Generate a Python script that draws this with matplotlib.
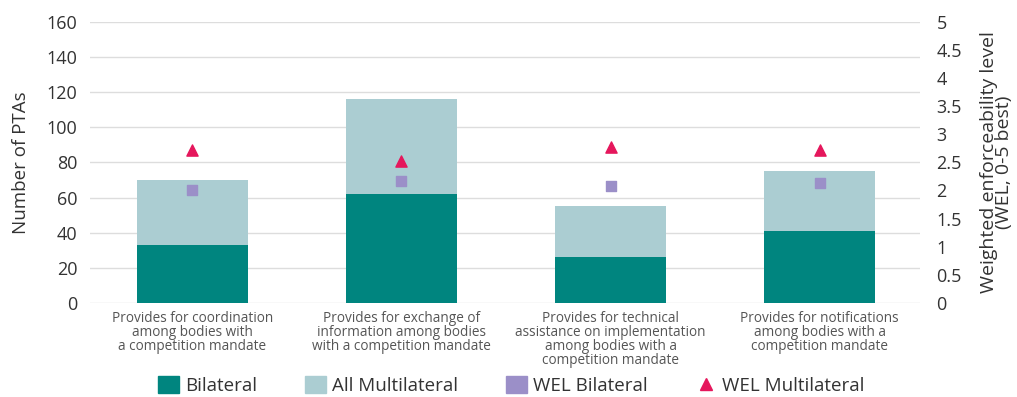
import numpy as np
import matplotlib.pyplot as plt
from matplotlib import font_manager
from matplotlib.lines import Line2D
from matplotlib.patches import Patch

plt.rcParams['font.family'] = ['Open Sans', 'DejaVu Sans']

categories = ["Provides for coordination\namong bodies with\na competition mandate",
              "Provides for exchange of\ninformation among bodies\nwith a competition mandate",
              "Provides for technical\nassistance on implementation\namong bodies with a\ncompetition mandate",
              "Provides for notifications\namong bodies with a\ncompetition mandate"]
bilateral = [33, 62, 26, 41]
multilateral = [37, 54, 29, 34]   # stacked on top of bilateral
wel_bilateral = [2.0, 2.17, 2.08, 2.13]
wel_multilateral = [2.72, 2.53, 2.78, 2.72]

teal = '#00857f'
light = '#abcdd2'
purple = '#9b8fc8'
red = '#e5175c'
txt = '#333333'

# condensed font for the category labels if we have one
names = {f.name for f in font_manager.fontManager.ttflist}
if 'Liberation Sans Narrow' in names:
    cat_font, cat_size = ['Liberation Sans Narrow', 'DejaVu Sans'], 11
else:
    cat_font, cat_size = ['Open Sans', 'DejaVu Sans'], 9.8

fig = plt.figure(figsize=(10.17, 3.97), dpi=100)
ax = fig.add_axes([0.0885, 0.237, 0.816, 0.708])
x = np.arange(len(categories))
w = 0.53
ax.bar(x, bilateral, w, color=teal, zorder=2)
ax.bar(x, multilateral, w, bottom=bilateral, color=light, zorder=2)
ax.set_ylim(0, 160)
ax.set_yticks(np.arange(0, 161, 20))
ax.set_xlim(-0.49, 3.48)
ax.set_xticks(x)
ax.set_xticklabels(categories, fontsize=cat_size, color='#555555', linespacing=0.9,
                   family=cat_font)
ax.tick_params(axis='x', length=0, pad=6)
ax.tick_params(axis='y', length=0, labelsize=13, labelcolor=txt, pad=9)
ax.grid(axis='y', color='#dddddd', linewidth=1, zorder=0)
ax.set_axisbelow(True)
for s in ax.spines.values():
    s.set_visible(False)
ax.set_ylabel("Number of PTAs", fontsize=13.5, color=txt, labelpad=12)

ax2 = ax.twinx()
ax2.set_ylim(0, 5)
ax2.set_yticks(np.arange(0, 5.01, 0.5))
ax2.set_yticklabels([f"{v:g}" for v in np.arange(0, 5.01, 0.5)])
ax2.tick_params(axis='y', length=0, labelsize=13, labelcolor=txt, pad=12)
for s in ax2.spines.values():
    s.set_visible(False)
ax2.scatter(x, wel_bilateral, marker='s', s=55, color=purple, zorder=3)
ax2.scatter(x, wel_multilateral, marker='^', s=65, color=red, zorder=3)
ax2.set_ylabel("Weighted enforceability level\n(WEL, 0-5 best)", fontsize=14,
               color=txt, linespacing=0.8, labelpad=13)

handles = [Patch(color=teal), Patch(color=light), Patch(color=purple),
           Line2D([], [], marker='^', ls='', color=red, markersize=8)]
labels = ["Bilateral", "All Multilateral", "WEL Bilateral", "WEL Multilateral"]
fig.legend(handles, labels, loc='center', bbox_to_anchor=(0.503, 0.028), ncol=4,
           frameon=False, fontsize=13.5, handlelength=1.1, handleheight=1.0,
           handletextpad=0.3, columnspacing=2.6, labelcolor=txt, borderpad=0)

fig.savefig("out.png", dpi=100)
